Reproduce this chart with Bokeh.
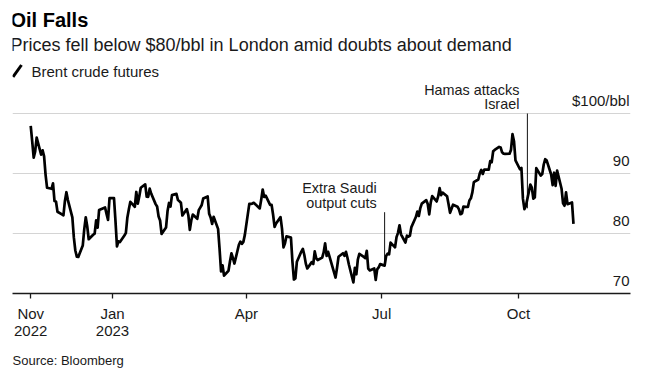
import pandas as pd
from bokeh.plotting import figure
from bokeh.models import Range1d, FixedTicker, Grid, Label, Arrow, ColumnDataSource, Title
from bokeh.core.properties import value
from bokeh.embed import file_html
from bokeh.resources import INLINE

# ---------------- data ----------------
dates = [
    "2022-11-07", "2022-11-08", "2022-11-09", "2022-11-10", "2022-11-11", "2022-11-14", "2022-11-15", "2022-11-16", "2022-11-17", "2022-11-18", "2022-11-21", "2022-11-22", "2022-11-23", "2022-11-24", "2022-11-25", "2022-11-28", "2022-11-29", "2022-11-30",
    "2022-12-01", "2022-12-02", "2022-12-05", "2022-12-06", "2022-12-07", "2022-12-08", "2022-12-09", "2022-12-12", "2022-12-13", "2022-12-14", "2022-12-15", "2022-12-16", "2022-12-19", "2022-12-20", "2022-12-21", "2022-12-22", "2022-12-23", "2022-12-27", "2022-12-28", "2022-12-29", "2022-12-30",
    "2023-01-02", "2023-01-03", "2023-01-04", "2023-01-05", "2023-01-06", "2023-01-09", "2023-01-10", "2023-01-11", "2023-01-12", "2023-01-13", "2023-01-16", "2023-01-17", "2023-01-18", "2023-01-19", "2023-01-20", "2023-01-23", "2023-01-24", "2023-01-25", "2023-01-26", "2023-01-27", "2023-01-30", "2023-01-31",
    "2023-02-01", "2023-02-02", "2023-02-03", "2023-02-06", "2023-02-07", "2023-02-08", "2023-02-09", "2023-02-10", "2023-02-13", "2023-02-14", "2023-02-15", "2023-02-16", "2023-02-17", "2023-02-20", "2023-02-21", "2023-02-22", "2023-02-23", "2023-02-24", "2023-02-27", "2023-02-28",
    "2023-03-01", "2023-03-02", "2023-03-03", "2023-03-06", "2023-03-07", "2023-03-08", "2023-03-09", "2023-03-10", "2023-03-13", "2023-03-14", "2023-03-15", "2023-03-16", "2023-03-17", "2023-03-20", "2023-03-21", "2023-03-22", "2023-03-23", "2023-03-24", "2023-03-27", "2023-03-28", "2023-03-29", "2023-03-30", "2023-03-31",
    "2023-04-03", "2023-04-04", "2023-04-05", "2023-04-06", "2023-04-10", "2023-04-11", "2023-04-12", "2023-04-13", "2023-04-14", "2023-04-17", "2023-04-18", "2023-04-19", "2023-04-20", "2023-04-21", "2023-04-24", "2023-04-25", "2023-04-26", "2023-04-27", "2023-04-28",
    "2023-05-01", "2023-05-02", "2023-05-03", "2023-05-04", "2023-05-05", "2023-05-08", "2023-05-09", "2023-05-10", "2023-05-11", "2023-05-12", "2023-05-15", "2023-05-16", "2023-05-17", "2023-05-18", "2023-05-19", "2023-05-22", "2023-05-23", "2023-05-24", "2023-05-25", "2023-05-26", "2023-05-30", "2023-05-31",
    "2023-06-01", "2023-06-02", "2023-06-05", "2023-06-06", "2023-06-07", "2023-06-08", "2023-06-09", "2023-06-12", "2023-06-13", "2023-06-14", "2023-06-15", "2023-06-16", "2023-06-19", "2023-06-20", "2023-06-21", "2023-06-22", "2023-06-23", "2023-06-26", "2023-06-27", "2023-06-28", "2023-06-29", "2023-06-30",
    "2023-07-03", "2023-07-04", "2023-07-05", "2023-07-06", "2023-07-07", "2023-07-10", "2023-07-11", "2023-07-12", "2023-07-13", "2023-07-14", "2023-07-17", "2023-07-18", "2023-07-19", "2023-07-20", "2023-07-21", "2023-07-24", "2023-07-25", "2023-07-26", "2023-07-27", "2023-07-28", "2023-07-31",
    "2023-08-01", "2023-08-02", "2023-08-03", "2023-08-04", "2023-08-07", "2023-08-08", "2023-08-09", "2023-08-10", "2023-08-11", "2023-08-14", "2023-08-15", "2023-08-16", "2023-08-17", "2023-08-18", "2023-08-21", "2023-08-22", "2023-08-23", "2023-08-24", "2023-08-25", "2023-08-28", "2023-08-29", "2023-08-30", "2023-08-31",
    "2023-09-01", "2023-09-04", "2023-09-05", "2023-09-06", "2023-09-07", "2023-09-08", "2023-09-11", "2023-09-12", "2023-09-13", "2023-09-14", "2023-09-15", "2023-09-18", "2023-09-19", "2023-09-20", "2023-09-21", "2023-09-22", "2023-09-25", "2023-09-26", "2023-09-27", "2023-09-28", "2023-09-29",
    "2023-10-02", "2023-10-03", "2023-10-04", "2023-10-05", "2023-10-06", "2023-10-09", "2023-10-10", "2023-10-11", "2023-10-12", "2023-10-13", "2023-10-16", "2023-10-17", "2023-10-18", "2023-10-19", "2023-10-20", "2023-10-23", "2023-10-24", "2023-10-25", "2023-10-26", "2023-10-27", "2023-10-30", "2023-10-31",
    "2023-11-01", "2023-11-02", "2023-11-03", "2023-11-06", "2023-11-07",
]
brent = [
    97.92, 95.36, 92.65, 93.67, 95.99, 93.14, 93.86, 92.86, 89.78, 87.62, 87.45, 88.36, 85.41, 85.34, 83.63, 83.19, 83.03, 85.43,
    86.88, 85.57, 82.68, 79.35, 77.17, 76.15, 76.10, 77.99, 80.68, 82.70, 81.21, 79.04, 79.80, 79.99, 82.20, 80.98, 83.92, 84.33, 83.26, 82.26, 85.91,
    85.91, 82.10, 77.84, 78.69, 78.57, 79.65, 80.10, 82.67, 84.03, 85.28, 84.46, 86.92, 84.98, 86.16, 87.63, 88.19, 86.13, 86.12, 87.47, 86.66, 84.90, 84.49,
    82.84, 82.17, 79.94, 80.99, 83.69, 85.09, 84.50, 86.39, 86.61, 85.58, 85.38, 85.14, 83.00, 84.07, 83.05, 80.60, 82.21, 83.16, 82.45, 83.89,
    84.31, 84.75, 85.83, 86.18, 83.29, 82.66, 81.59, 82.78, 80.77, 77.45, 73.69, 74.70, 72.97, 73.79, 75.32, 76.69, 75.91, 74.99, 78.12, 78.65, 78.28, 78.60, 79.77,
    84.93, 84.94, 84.99, 85.12, 84.18, 85.61, 87.33, 86.09, 86.31, 84.76, 84.77, 83.12, 81.10, 81.66, 82.73, 80.77, 77.69, 78.37, 79.54,
    79.31, 75.32, 72.33, 72.50, 75.30, 76.99, 77.44, 76.41, 74.98, 74.17, 75.23, 74.91, 77.01, 75.86, 75.58, 75.99, 76.84, 78.36, 76.26, 76.95, 73.54, 72.66,
    74.28, 76.13, 76.71, 76.29, 76.95, 75.96, 74.79, 71.84, 74.29, 73.20, 75.67, 76.61, 76.09, 75.90, 77.12, 74.14, 73.85, 74.18, 72.26, 74.03, 74.34, 74.90,
    74.65, 76.25, 76.65, 76.52, 78.47, 77.69, 79.40, 80.11, 81.36, 79.87, 78.50, 79.63, 79.46, 79.64, 81.07, 82.74, 83.64, 82.92, 84.24, 84.99, 85.56,
    84.91, 83.20, 85.14, 86.24, 85.34, 86.17, 87.55, 86.40, 86.81, 86.21, 84.89, 83.45, 84.12, 84.80, 84.46, 84.03, 83.21, 83.36, 84.48, 84.42, 85.49, 85.86, 86.86,
    88.55, 89.00, 90.04, 90.60, 89.92, 90.65, 90.64, 92.06, 91.88, 93.70, 93.93, 94.43, 94.34, 93.53, 93.30, 93.27, 93.29, 93.96, 96.55, 95.38, 92.20,
    90.71, 90.92, 85.81, 84.07, 84.58, 88.15, 87.65, 85.82, 86.00, 90.89, 89.65, 89.90, 91.50, 92.38, 92.16, 89.83, 88.07, 90.13, 87.93, 90.48, 87.45, 85.02,
    84.63, 86.85, 84.89, 85.18, 81.61,
]

tick_dates = ["2022-11-07", "2023-01-01", "2023-04-01", "2023-07-01", "2023-10-01"]
tick_labels = ["Nov\n2022", "Jan\n2023", "Apr", "Jul", "Oct"]

y_ticks = [70, 80, 90, 100]
y_labels = ["70", "80", "90", "$100/bbl"]

event_dates = ["2023-07-03", "2023-10-07"]
event_text = ["Extra Saudi\noutput cuts", "Hamas attacks\nIsrael"]
event_top = [83.55, 100.0]
event_low = [75.0, 84.2]

assert len(dates) == len(brent)

# ---------------- helpers ----------------
EPOCH = pd.Timestamp("1970-01-01")


def to_ms(d):
    return (pd.Timestamp(d) - EPOCH) / pd.Timedelta(milliseconds=1)


DAY = 86400000.0
jan1 = to_ms("2023-01-01")

FONT = "Liberation Sans"
INK = "#1a1a1a"

src = ColumnDataSource(data=dict(date=[to_ms(d) for d in dates], price=brent))

x_start = jan1 - 67.25 * DAY
x_end = jan1 + 348.35 * DAY

p = figure(
    width=636, height=376,
    x_axis_type="datetime", y_axis_location=None,
    x_range=Range1d(x_start, x_end), y_range=Range1d(70, 117.5),
    toolbar_location=None, output_backend="svg",
    min_border_left=12, min_border_right=6, min_border_top=8, min_border_bottom=83,
)
p.outline_line_color = None
p.background_fill_color = "white"
p.border_fill_color = "white"
p.xgrid.visible = False
p.ygrid.visible = False

grid = Grid(dimension=1, ticker=FixedTicker(ticks=y_ticks),
            grid_line_color="#d4d4d4", grid_line_width=1)
p.add_layout(grid)

# x axis
ax = p.xaxis[0]
tick_ms = [to_ms(d) for d in tick_dates]
ax.ticker = FixedTicker(ticks=tick_ms)
ax.major_label_overrides = {t: lab for t, lab in zip(tick_ms, tick_labels)}
ax.axis_line_color = INK
ax.axis_line_width = 1.3
ax.major_tick_line_color = INK
ax.major_tick_line_width = 1.3
ax.major_tick_in = 0
ax.major_tick_out = 5
ax.minor_tick_line_color = None
ax.major_label_standoff = 6
ax.major_label_text_font = FONT
ax.major_label_text_font_size = "15px"
ax.major_label_text_line_height = 1.05
ax.major_label_text_color = INK

# source line under the axis
p.add_layout(Title(text="Source: Bloomberg", align="left", offset=0, standoff=17,
                   text_font=FONT, text_font_size="13px", text_font_style="normal",
                   text_color=INK), "below")

# y labels (above gridlines, right-aligned)
p.text(x=[x_end] * len(y_ticks), y=y_ticks, text=y_labels,
       text_align="right", text_baseline="middle", x_offset=-1, y_offset=-13,
       text_font=value(FONT), text_font_size="15px", text_color=INK)

# event lines and labels
ev_ms = [to_ms(d) for d in event_dates]
p.segment(x0=ev_ms, y0=event_top, x1=ev_ms, y1=event_low, line_color="#111111", line_width=1)
p.text(x=ev_ms, y=event_top, text=event_text, text_align="right", text_baseline="bottom",
       x_offset=-8, y_offset=-1, text_line_height=0.92,
       text_font=value(FONT), text_font_size="14.4px", text_color=INK)

# data line
p.line("date", "price", source=src, line_color="black", line_width=2.7, line_join="round")

# header texts (screen units relative to the frame)
p.add_layout(Label(x=-2, y=273.3, x_units="screen", y_units="screen", text="Oil Falls",
                   text_font=FONT, text_font_size="20px", text_font_style="bold",
                   text_color="black", text_baseline="middle"))
p.add_layout(Label(x=-2, y=248.3, x_units="screen", y_units="screen",
                   text="Prices fell below $80/bbl in London amid doubts about demand",
                   text_font=FONT, text_font_size="18px", text_color=INK, text_baseline="middle"))
p.add_layout(Arrow(end=None, x_start=0.5, y_start=216.5, x_end=9, y_end=228.5,
                   start_units="screen", end_units="screen",
                   line_color="black", line_width=3))
p.add_layout(Label(x=19, y=222.3, x_units="screen", y_units="screen", text="Brent crude futures",
                   text_font=FONT, text_font_size="15px", text_color=INK, text_baseline="middle"))

open("out.html", "w").write(file_html(p, INLINE))
